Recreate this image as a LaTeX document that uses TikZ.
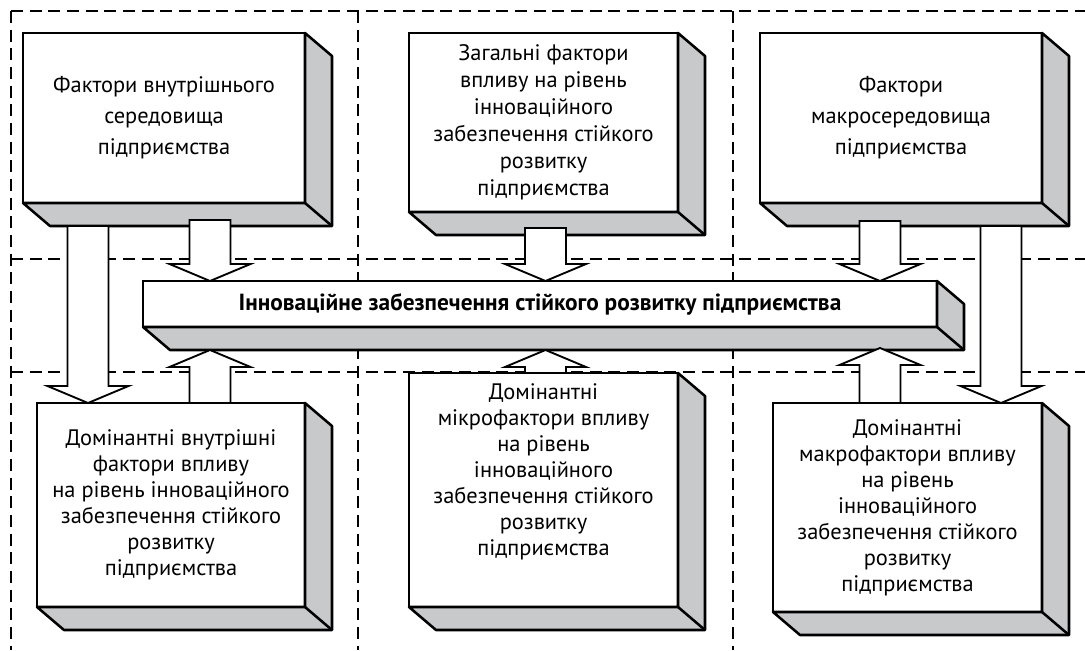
\documentclass[tikz,border=0pt]{standalone}
\usepackage{fontspec}
\setmainfont{PT Sans}
\usetikzlibrary{calc}
\definecolor{sidegray}{RGB}{200,201,203}
\tikzset{
	frame/.style={line width=1.1pt, dash pattern=on 9pt off 5pt},
	face/.style={draw, fill=white, line width=1.9pt, outer sep=0pt, inner sep=0pt, align=center, font=\fontsize{16.8}{19.5}\selectfont},
	side/.style={draw, fill=sidegray, line width=1.9pt, line join=round},
	blockarrow/.style={draw, fill=white, line width=1.4pt, line join=miter}
}
\newcommand\sidebox[1]{%
	\filldraw[side] (#1.south west) -- ++(27,23) -- ($(#1.south east)+(27,23)$) -- ($(#1.north east)+(27,23)$) -- (#1.north east) -- (#1.south east) -- cycle;
	\draw[side] (#1.south east) -- ++(27,23);}
\newcommand\blockarrow[2]{%
	\draw[blockarrow] let \p1=(#1), \p2=(#2), \p3=($(#2)!12.75pt!(#1)$) in
		(\x1-15.4pt,\y1) -- (\x1-15.4pt,\y3) -- (\x1-30.4pt,\y3) -- (\p2) -- (\x1+30.4pt,\y3) -- (\x1+15.4pt,\y3) -- (\x1+15.4pt,\y1) -- cycle;}
\begin{document}
\begin{tikzpicture}[x=0.75pt, y=-0.75pt]
		\useasboundingbox (0,0) rectangle (1085,650);
		\draw[frame] (11,11) -- (1085,11);
		\foreach \x in {11,358,733} \draw[frame] (\x,11) -- (\x,650);
		\foreach \y in {259,372} \draw[frame] (11,\y) -- (1085,\y);
		\node[face, minimum width=211.5pt, minimum height=127.5pt, font=\fontsize{16.8}{23.25}\selectfont] (inner) at (164,118) {Фактори внутрішнього\\середовища\\підприємства};
		\node[face, minimum width=201.75pt, minimum height=134.25pt, font=\fontsize{16.8}{20.25}\selectfont] (general) at (543.5,122.5) {Загальні фактори\\впливу на рівень\\інноваційного\\забезпечення стійкого\\розвитку\\підприємства};
		\node[face, minimum width=211.5pt, minimum height=127.5pt, font=\fontsize{16.8}{23.25}\selectfont] (macro) at (901,118) {Фактори\\макросередовища\\підприємства};
		\node[face, minimum width=595.5pt, minimum height=34.5pt, font=\fontsize{17.5}{19.5}\selectfont\bfseries] (bar) at (540,304) {Інноваційне забезпечення стійкого розвитку підприємства};
		\node[face, minimum width=201pt, minimum height=153pt] (domin) at (171,505) {Домінантні внутрішні\\фактори впливу\\на рівень інноваційного\\забезпечення стійкого\\розвитку\\підприємства};
		\node[face, minimum width=201.75pt, minimum height=175.5pt, text depth=30pt] (dommicro) at (543.5,490) {Домінантні\\мікрофактори впливу\\на рівень\\інноваційного\\забезпечення стійкого\\розвитку\\підприємства};
		\node[face, minimum width=201.75pt, minimum height=156.75pt] (dommacro) at (907.5,507.5) {Домінантні\\макрофактори впливу\\на рівень\\інноваційного\\забезпечення стійкого\\розвитку\\підприємства};
		\foreach \n in {inner,general,macro,bar,domin,dommicro,dommacro} \sidebox{\n};
		\coordinate (cl) at (88,0);
		\coordinate (ca) at (210,0);
		\coordinate (cb) at (545.5,0);
		\coordinate (cc) at (880,0);
		\coordinate (cr) at (1001,0);
		% down to the bar
		\blockarrow{$(inner.south -| ca)+(0,17)$}{bar.north -| ca}
		\blockarrow{$(general.south -| cb)+(0,16)$}{bar.north -| cb}
		\blockarrow{$(macro.south -| cc)+(0,18)$}{bar.north -| cc}
		% long ones
		\blockarrow{$(inner.south -| cl)+(0,23)$}{domin.north -| cl}
		\blockarrow{$(macro.south -| cr)+(0,23)$}{dommacro.north -| cr}
		% up to the bar
		\blockarrow{domin.north -| ca}{$(bar.south -| ca)+(0,23)$}
		\blockarrow{dommicro.north -| cb}{$(bar.south -| cb)+(0,23)$}
		\blockarrow{dommacro.north -| cc}{$(bar.south -| cc)+(0,21)$}
	\end{tikzpicture}
\end{document}
